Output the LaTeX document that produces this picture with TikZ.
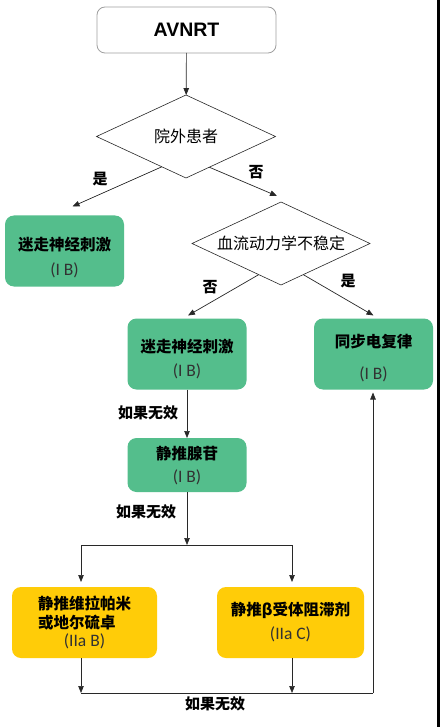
\documentclass[tikz,border=0pt]{standalone}
\usepackage{fontspec}
\setmainfont{Noto Sans CJK SC}
\newfontfamily\titlefont{Liberation Sans}
\newfontfamily\gradefont{Carlito}
\usetikzlibrary{shapes.geometric,arrows.meta,calc}
\definecolor{boxgreen}{RGB}{84,190,140}
\definecolor{boxyellow}{RGB}{255,204,8}
\definecolor{linegray}{RGB}{40,40,40}
\definecolor{gradegray}{RGB}{50,50,50}
\newcommand\grade[1]{{\gradefont\mdseries\fontsize{17.5}{20}\selectfont\color{gradegray}#1}}
\newcommand\topgap[1]{\rule{0pt}{#1}}
\begin{document}
\begin{tikzpicture}[x=1pt,y=-1pt,
  every node/.style={inner sep=0pt, outer sep=0pt},
  startbox/.style={draw=gray!75, line width=0.8pt, rounded corners=8pt, minimum width=179pt, minimum height=46pt, fill=white, font=\titlefont\bfseries\fontsize{19.5}{22}\selectfont},
  decision/.style={diamond, draw=linegray, line width=0.6pt, aspect=2, minimum width=179pt, minimum height=83pt, font=\fontsize{16}{19}\selectfont},
  greenbox/.style={fill=boxgreen, rounded corners=9pt, align=center, minimum width=119pt, minimum height=71pt, font=\fontsize{15.5}{19}\selectfont\bfseries},
  yellowbox/.style={fill=boxyellow, rounded corners=9pt, align=center, minimum height=71pt, font=\fontsize{15.5}{19}\selectfont\bfseries},
  conn/.style={draw=linegray, line width=0.7pt, -{Triangle[length=7pt,width=5.5pt]}},
  plain/.style={draw=linegray, line width=0.7pt},
  lbl/.style={font=\fontsize{15}{17}\selectfont\bfseries, text=black}
]
\useasboundingbox (0,0) rectangle (440,727);
\fill[white] (0,0) rectangle (440,727);
\fill[black] (437,0) rectangle (440,727);

% nodes
\node[startbox] (start) at (186.5,30) {AVNRT};
\node[decision] (d1) at (186,136.5) {院外患者};
\node[greenbox] (g1) at (64.5,251) {\topgap{26.5pt}迷走神经刺激\\[6pt]\grade{(I B)}};
\node[decision, minimum width=178pt] (d2) at (281,243.5) {血流动力学不稳定};
\node[greenbox] (g3) at (187,354) {\topgap{23.5pt}迷走神经刺激\\[5pt]\grade{(I B)}};
\node[greenbox, minimum width=119pt] (g2) at (373.5,354) {\topgap{21.5pt}同步电复律\\[13pt]\grade{(I B)}};
\node[greenbox, minimum height=54pt] (g4) at (187,465) {\topgap{14.5pt}静推腺苷\\[4pt]\grade{(I B)}};
\node[yellowbox, minimum width=145pt] (y1) at (84.5,622.5) {\begin{tabular}{@{}l@{}}静推维拉帕米\\[0pt]或地尔硫卓\end{tabular}\\[-1pt]\grade{(IIa B)}};
\node[yellowbox, minimum width=147pt] (y2) at (290.5,622.5) {静推β受体阻滞剂\\[5pt]\grade{(IIa C)}};

% helper coordinates
\coordinate (split) at (187,545);
\coordinate (jl) at (81,545);
\coordinate (jr) at (292,545);
\coordinate (bl) at (81,693);
\coordinate (br) at (292,693);
\coordinate (bc) at (373,693);

% connectors
\draw[conn] (start) -- (d1);
\draw[conn] ($(d1.south)!0.27!(d1.west)$) -- ($(g1.north)+(8,-9)$);
\draw[conn] ($(d1.south)!0.26!(d1.east)$) -- ($(d2.north)+(-4,-6)$);
\draw[conn] ($(d2.south)!0.25!(d2.west)$) -- ($(g3.north)+(1,-3)$);
\draw[conn] ($(d2.south)!0.25!(d2.east)$) -- ($(g2.north)+(0,-3)$);
\draw[conn] (g3) -- (g4);
\draw[conn] (g4) -- (split);
\draw[plain] (jl) -- (jr);
\draw[conn, shorten >=5pt] (jl) -- (jl |- y1.north);
\draw[conn, shorten >=5pt] (jr) -- (jr |- y2.north);
\draw[conn] (bl |- y1.south) -- (bl);
\draw[conn] (br |- y2.south) -- (br);
\draw[plain] (bl) -- (bc);
\draw[conn, shorten >=3pt] (bc) -- (bc |- g2.south);

% labels
\node[lbl] (l1) at (100,179) {是};
\node[lbl] (l2) at (256,172) {否};
\node[lbl] (l3) at (210,287) {否};
\node[lbl] (l4) at (348,281) {是};
\node[lbl] (l5) at (148,413) {如果无效};
\node[lbl] (l6) at (146,512) {如果无效};
\node[lbl] (l7) at (215,704) {如果无效};
\end{tikzpicture}
\end{document}
